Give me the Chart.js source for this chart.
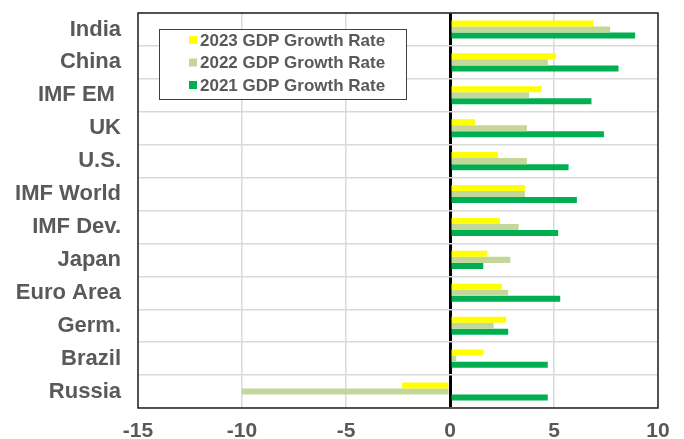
<!DOCTYPE html>
<html>
<head>
<meta charset="utf-8">
<script src="https://cdn.jsdelivr.net/npm/chart.js@4.4.0/dist/chart.umd.min.js"></script>
<style>
html,body{margin:0;padding:0;background:#fff;}
canvas{display:block;}
</style>
</head>
<body>
<canvas id="c" width="684" height="439"></canvas>
<script>
const categories = ["India","China","IMF EM ","UK","U.S.","IMF World","IMF Dev.","Japan","Euro Area","Germ.","Brazil","Russia"];
const growth2023 = [6.9, 5.1, 4.4, 1.2, 2.3, 3.6, 2.4, 1.8, 2.5, 2.7, 1.6, -2.3];
const growth2022 = [7.7, 4.7, 3.8, 3.7, 3.7, 3.6, 3.3, 2.9, 2.8, 2.1, 0.3, -10.0];
const growth2021 = [8.9, 8.1, 6.8, 7.4, 5.7, 6.1, 5.2, 1.6, 5.3, 2.8, 4.7, 4.7];
const xTicks = [-15, -10, -5, 0, 5, 10];
const seriesLabels = ["2023 GDP Growth Rate","2022 GDP Growth Rate","2021 GDP Growth Rate"];
const seriesColors = ["#FFFF00","#C4D79B","#00B050"];

const FONT = "'Liberation Sans', Arial, Helvetica, sans-serif";
const GRAY = "#595959";

const frameLegend = {
  id: 'frameLegend',
  afterDatasetsDraw(chart) {
    const {ctx, chartArea: a} = chart;
    ctx.save();
    ctx.strokeStyle = '#222';
    ctx.lineWidth = 1.5;
    ctx.strokeRect(a.left, a.top, a.right - a.left, a.bottom - a.top);
    // legend box
    const bx = 159, by = 29, bw = 247, bh = 70;
    ctx.fillStyle = '#fff';
    ctx.fillRect(bx, by, bw, bh);
    ctx.strokeStyle = '#404040';
    ctx.lineWidth = 1;
    ctx.strokeRect(bx + 0.5, by + 0.5, bw, bh);
    ctx.font = "bold 17px " + FONT;
    ctx.textBaseline = 'middle';
    ctx.textAlign = 'left';
    chart.data.datasets.forEach((ds, i) => {
      const cy = 40 + i * 22.5;
      ctx.fillStyle = ds.backgroundColor;
      ctx.fillRect(189, cy - 4, 8, 8);
      ctx.fillStyle = GRAY;
      ctx.fillText(ds.label, 200, cy + 1);
    });
    ctx.restore();
  }
};

new Chart(document.getElementById('c'), {
  type: 'bar',
  data: {
    labels: categories,
    datasets: [
      {label: seriesLabels[0], data: growth2023, backgroundColor: seriesColors[0]},
      {label: seriesLabels[1], data: growth2022, backgroundColor: seriesColors[1]},
      {label: seriesLabels[2], data: growth2021, backgroundColor: seriesColors[2]}
    ]
  },
  options: {
    indexAxis: 'y',
    responsive: false,
    animation: false,
    devicePixelRatio: 1,
    layout: {padding: {top: 13, right: 26, bottom: 0, left: 0}},
    datasets: {bar: {barPercentage: 1, categoryPercentage: 0.55}},
    plugins: {legend: {display: false}, tooltip: {enabled: false}},
    scales: {
      x: {
        min: -15, max: 10,
        afterBuildTicks(scale) { scale.ticks = xTicks.map(v => ({value: v})); },
        afterFit(scale) { scale.height = 31; scale.paddingLeft = 0; scale.paddingRight = 0; },
        border: {display: false},
        grid: {
          drawTicks: false,
          color: ctx => (ctx.tick && ctx.tick.value === 0) ? '#000' : '#d9d9d9',
          lineWidth: ctx => (ctx.tick && ctx.tick.value === 0) ? 3 : 1.5
        },
        ticks: {
          padding: 11,
          color: GRAY,
          font: {family: FONT, size: 21, weight: 'bold'}
        }
      },
      y: {
        afterFit(scale) { scale.width = 138; scale.paddingTop = 0; scale.paddingBottom = 0; },
        border: {display: false},
        grid: {drawTicks: false, color: '#d9d9d9', lineWidth: 1.5},
        ticks: {
          padding: 17,
          color: GRAY,
          font: {family: FONT, size: 22, weight: 'bold'}
        }
      }
    }
  },
  plugins: [frameLegend]
});
</script>
</body>
</html>
